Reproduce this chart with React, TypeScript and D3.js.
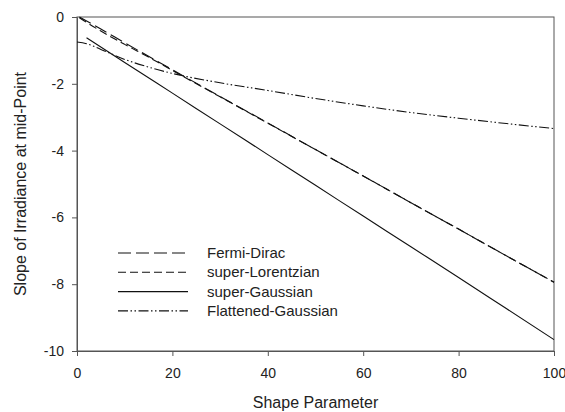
import React, { useEffect, useRef } from 'react';
import * as d3 from 'd3';

interface Pt { x: number; y: number; }

const fermiX = [0.5, 5, 10, 20, 30, 40, 50, 60, 70, 80, 90, 100];
const fermiY = [0, -0.36, -0.77, -1.58, -2.38, -3.17, -3.97, -4.76, -5.56, -6.35, -7.15, -7.94];

const lorentzX = [0.5, 2, 5, 10, 15, 20, 30, 40, 50, 60, 70, 80, 90, 100];
const lorentzY = [-0.02, -0.16, -0.42, -0.82, -1.2, -1.6, -2.39, -3.18, -3.97, -4.76, -5.56, -6.35, -7.15, -7.94];

const gaussX = [2, 10, 20, 30, 40, 50, 60, 70, 80, 90, 100];
const gaussY = [-0.62, -1.36, -2.28, -3.2, -4.12, -5.04, -5.96, -6.88, -7.8, -8.73, -9.66];

const flatX = [0, 2, 5, 10, 15, 20, 30, 40, 50, 60, 70, 80, 90, 100];
const flatY = [-0.75, -0.8, -0.97, -1.27, -1.5, -1.69, -1.97, -2.2, -2.44, -2.66, -2.86, -3.03, -3.19, -3.34];

const xTicks = [0, 20, 40, 60, 80, 100];
const yTicks = [0, -2, -4, -6, -8, -10];

const seriesNames = ['Fermi-Dirac', 'super-Lorentzian', 'super-Gaussian', 'Flattened-Gaussian'];
const seriesDash = ['13,5', '8,4', '', '10,2.5,1.5,2.5,1.5,2.5'];

const zip = (xs: number[], ys: number[]): Pt[] => xs.map((x, i) => ({ x, y: ys[i] }));

const W = 565;
const H = 412;

export default function App() {
  const svgRef = useRef<SVGSVGElement>(null);

  useEffect(() => {
    if (!svgRef.current) return;
    const svg = d3.select(svgRef.current);
    svg.selectAll('*').remove();

    const margin = { top: 17, right: 11, bottom: 61, left: 77 };
    const innerWidth = W - margin.left - margin.right;
    const innerHeight = H - margin.top - margin.bottom;
    const font = 'Arial, "Liberation Sans", sans-serif';

    const g = svg.append('g').attr('transform', `translate(${margin.left},${margin.top})`);

    const xScale = d3.scaleLinear().domain([0, 100]).range([0, innerWidth]);
    const yScale = d3.scaleLinear().domain([-10, 0]).range([innerHeight, 0]);

    // frame (top / right)
    g.append('rect')
      .attr('x', 0)
      .attr('y', 0)
      .attr('width', innerWidth)
      .attr('height', innerHeight)
      .attr('fill', 'none')
      .attr('stroke', '#555')
      .attr('stroke-width', 1);

    // Axes (hyphen minus like the original)
    const fmt = (d: d3.NumberValue) => String(d);
    const xAxis = g.append('g')
      .attr('transform', `translate(0,${innerHeight})`)
      .call(d3.axisBottom(xScale).tickValues(xTicks).tickFormat(fmt).tickSize(5).tickSizeOuter(0).tickPadding(12));
    const yAxis = g.append('g')
      .call(d3.axisLeft(yScale).tickValues(yTicks).tickFormat(fmt).tickSize(5).tickSizeOuter(0).tickPadding(8));

    [xAxis, yAxis].forEach(ax => {
      ax.selectAll('path').attr('stroke', '#555');
      ax.selectAll('line').attr('stroke', '#555');
      ax.selectAll('text')
        .attr('fill', '#222')
        .attr('font-size', '14px')
        .attr('font-family', font);
    });

    const line = d3.line<Pt>()
      .x(d => xScale(d.x))
      .y(d => yScale(d.y))
      .curve(d3.curveMonotoneX);

    const series = [zip(fermiX, fermiY), zip(lorentzX, lorentzY), zip(gaussX, gaussY), zip(flatX, flatY)];

    series.forEach((data, i) => {
      g.append('path')
        .datum(data)
        .attr('fill', 'none')
        .attr('stroke', '#111')
        .attr('stroke-width', 1.1)
        .attr('stroke-dasharray', seriesDash[i] || null)
        .attr('d', line);
    });

    // Legend
    const legend = g.append('g').attr('transform', `translate(${118 - margin.left}, ${253 - margin.top})`);
    seriesNames.forEach((name, i) => {
      const row = legend.append('g').attr('transform', `translate(0, ${i * 19.3})`);
      row.append('line')
        .attr('x1', 0)
        .attr('x2', 70)
        .attr('stroke', '#111')
        .attr('stroke-width', 1.1)
        .attr('stroke-dasharray', seriesDash[i] || null);
      row.append('text')
        .attr('x', 89)
        .attr('y', 5)
        .attr('fill', '#222')
        .attr('font-size', '15px')
        .attr('font-family', font)
        .text(name);
    });

    // Axis titles
    svg.append('text')
      .attr('x', margin.left + innerWidth / 2)
      .attr('y', 408)
      .attr('text-anchor', 'middle')
      .attr('fill', '#222')
      .attr('font-size', '16px')
      .attr('font-family', font)
      .text('Shape Parameter');

    svg.append('text')
      .attr('transform', `translate(26,${margin.top + innerHeight / 2}) rotate(-90)`)
      .attr('text-anchor', 'middle')
      .attr('fill', '#222')
      .attr('font-size', '16px')
      .attr('font-family', font)
      .text('Slope of Irradiance at mid-Point');
  }, []);

  return (
    <svg
      ref={svgRef}
      width={W}
      height={H}
      style={{ position: 'absolute', left: 0, top: 0, background: '#fff' }}
    />
  );
}
